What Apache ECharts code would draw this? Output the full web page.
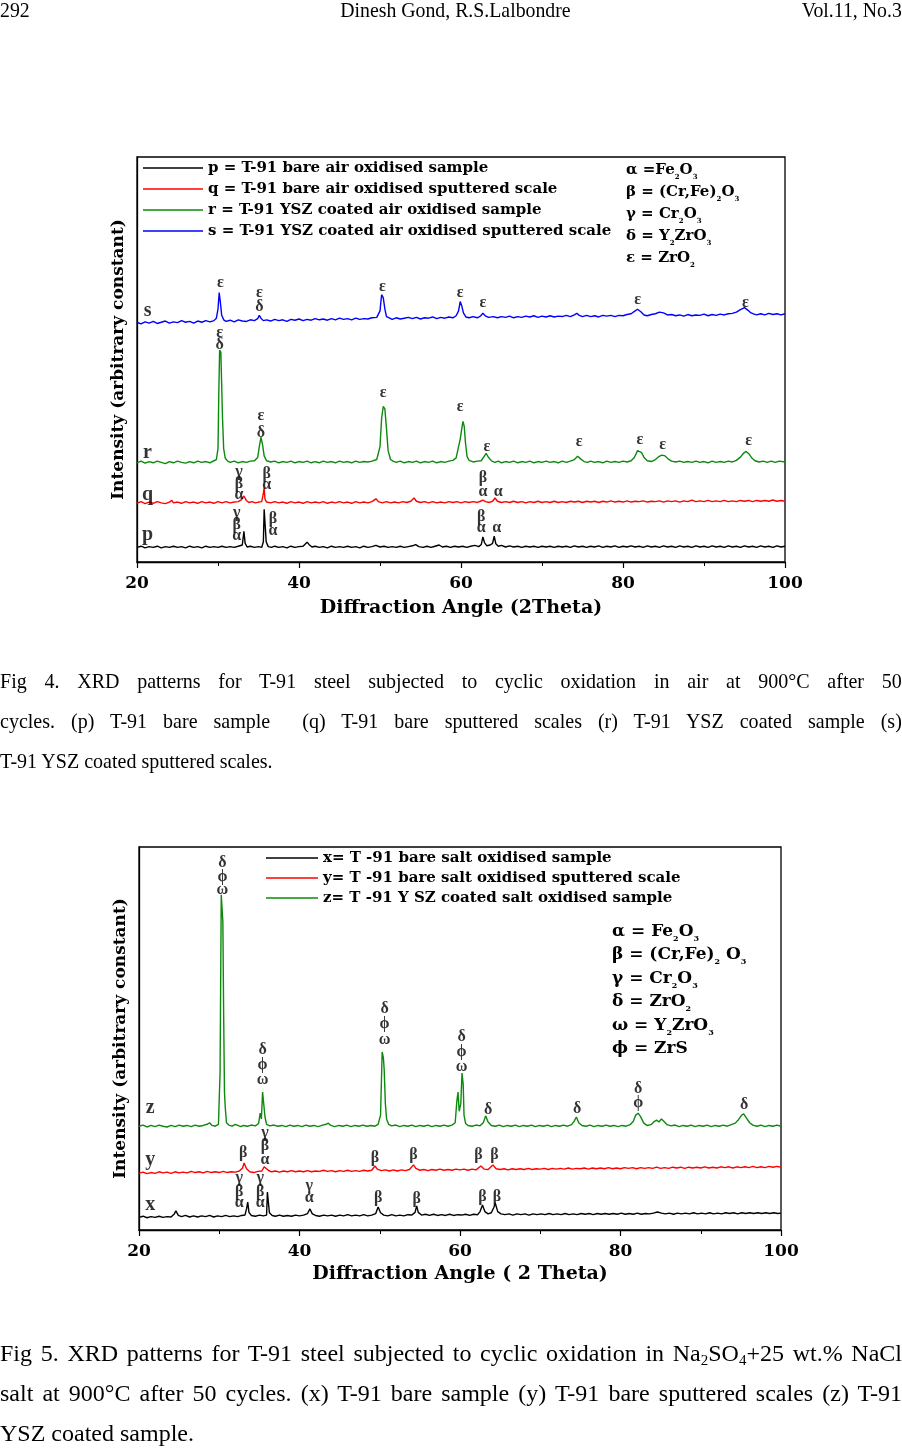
<!DOCTYPE html>
<html><head><meta charset="utf-8">
<script src="https://cdn.jsdelivr.net/npm/echarts@6/dist/echarts.min.js"></script>
<style>
html,body{margin:0;padding:0;background:#fff;}
#chart{position:absolute;left:0;top:0;width:902px;height:1454px;}
.txt{position:absolute;left:0;transform-origin:0 0;font-family:'Liberation Serif','Times New Roman',serif;color:#000;}
.cap1{width:991px;transform:scaleX(0.91);font-size:22px;line-height:40px;}
.cap2{width:902px;font-size:24px;line-height:40px;}
.j{text-align:justify;text-align-last:justify;}
.hdr{top:0;width:1002px;transform:scaleX(0.9);font-size:22px;line-height:20px;height:20px;}
sub{font-size:15px;line-height:0;vertical-align:-4px;}
</style></head><body>
<div id="chart"></div>
<div class="txt hdr"><span style="position:absolute;left:0">292</span><span style="position:absolute;left:378px">Dinesh Gond, R.S.Lalbondre</span><span style="position:absolute;right:0">Vol.11, No.3</span></div>
<div class="txt cap1" style="top:661px">
<div class="j">Fig 4. XRD patterns for T-91 steel subjected to cyclic oxidation in air at 900°C after 50</div>
<div class="j">cycles. (p) T-91 bare sample&nbsp; (q) T-91 bare sputtered scales (r) T-91 YSZ coated sample (s)</div>
<div>T-91 YSZ coated sputtered scales.</div>
</div>
<div class="txt cap2" style="top:1333px">
<div class="j">Fig 5. XRD patterns for T-91 steel subjected to cyclic oxidation in Na<sub>2</sub>SO<sub>4</sub>+25 wt.% NaCl</div>
<div class="j">salt at 900°C after 50 cycles. (x) T-91 bare sample (y) T-91 bare sputtered scales (z) T-91</div>
<div>YSZ coated sample.</div>
</div>
<script>
// ---------- axis ----------
const xTicks = [20, 40, 60, 80, 100];

// ---------- Fig 4 series names ----------
const names4 = [
  'p = T-91 bare air oxidised sample',
  'q = T-91 bare air oxidised sputtered scale',
  'r = T-91 YSZ coated air oxidised sample',
  's = T-91 YSZ coated air oxidised sputtered scale'
];
const colors4 = ['#000000', '#ff0000', '#0b8a0b', '#0000ff'];

// ---------- Fig 5 series names ----------
const names5 = [
  'x= T -91 bare salt oxidised sample',
  'y= T -91 bare salt oxidised sputtered scale',
  'z= T -91 Y SZ coated salt oxidised sample'
];
const colors5 = ['#000000', '#ff0000', '#0b8a0b'];

// ---------- Fig 4 data: [2theta, intensity (arb.)] ----------
const p4 = [[20,3.6],[20.5,3.9],[21,3.5],[21.5,3.8],[22,3.6],[22.5,3.9],[23,3.5],[23.5,3.8],[24,3.6],[24.5,3.9],[25,3.6],[25.5,3.8],[26,3.5],[26.5,3.9],[27,3.6],[27.5,3.8],[28,3.5],[28.5,3.9],[29,3.6],[29.5,3.8],[30,3.6],[30.5,3.9],[31,3.6],[31.5,3.8],[32,3.6],[32.5,3.9],[33.0,4.2],[33.2,7.6],[33.35,4.6],[33.6,3.7],[34,3.9],[34.5,3.6],[35,3.8],[35.4,3.6],[35.6,5.0],[35.7,13.0],[35.85,13.0],[35.95,5.0],[36.2,3.8],[36.6,3.6],[37,3.9],[37.5,3.6],[38,3.8],[38.5,3.5],[39,3.9],[39.5,3.6],[40,3.8],[40.5,3.9],[41,4.9],[41.3,4.2],[41.6,3.7],[42,3.9],[42.5,3.6],[43,3.8],[43.5,3.5],[44,3.9],[44.5,3.6],[45,3.8],[45.5,3.6],[46,3.9],[46.5,3.6],[47,3.8],[47.5,3.5],[48,3.9],[48.5,3.6],[49,3.8],[49.5,4.1],[50,3.7],[50.5,3.9],[51,3.6],[51.5,3.8],[52,3.6],[52.5,3.9],[53,3.6],[53.5,3.8],[54,4.0],[54.4,4.3],[54.8,3.8],[55.3,3.6],[55.8,3.9],[56.3,3.6],[56.8,3.9],[57.3,4.2],[57.7,3.7],[58.2,3.9],[58.7,3.6],[59.2,3.9],[59.7,3.7],[60.2,3.9],[60.7,3.6],[61.2,3.9],[61.7,4.1],[62.2,3.8],[62.5,4.3],[62.7,6.2],[62.9,4.8],[63.2,4.0],[63.6,4.2],[63.9,4.6],[64.1,6.4],[64.3,4.5],[64.6,3.9],[65,4.1],[65.5,3.7],[66,4.0],[66.5,3.7],[67,3.9],[67.5,3.6],[68,3.9],[68.5,3.7],[69,3.9],[69.5,3.6],[70,3.9],[70.5,3.7],[71,3.9],[71.5,3.6],[72,3.9],[72.5,3.7],[73,3.9],[73.5,3.6],[74,4.0],[74.5,3.7],[75,3.9],[75.5,3.6],[76,3.9],[76.5,3.7],[77,4.0],[77.5,3.6],[78,3.9],[78.5,3.7],[79,4.0],[79.5,3.6],[80,3.9],[80.5,3.7],[81,4.0],[81.5,3.7],[82,3.9],[82.5,3.6],[83,4.0],[83.5,3.7],[84,3.9],[84.5,3.6],[85,4.0],[85.5,3.7],[86,3.9],[86.5,3.6],[87,4.0],[87.5,3.7],[88,3.9],[88.5,3.6],[89,4.0],[89.5,3.7],[90,3.9],[90.5,3.6],[91,4.0],[91.5,3.7],[92,3.9],[92.5,3.6],[93,4.0],[93.5,3.7],[94,3.9],[94.5,3.6],[95,4.0],[95.5,3.7],[96,3.9],[96.5,3.6],[97,4.0],[97.5,3.7],[98,3.9],[98.5,3.6],[99,4.0],[99.5,3.7],[100,3.9]];

const q4 = [[20,14.5],[20.5,14.9],[21,14.4],[21.5,14.8],[22,14.5],[22.5,14.9],[23,14.6],[23.5,14.4],[24,14.8],[24.3,15.2],[24.5,14.6],[25,14.8],[25.5,14.5],[26,14.9],[26.5,14.6],[27,14.8],[27.5,14.5],[28,14.9],[28.5,14.6],[29,14.8],[29.5,14.5],[30,14.9],[30.5,14.6],[31,14.9],[31.5,14.6],[32,14.8],[32.5,14.9],[32.9,15.4],[33.2,16.3],[33.5,15.2],[33.8,14.7],[34.2,14.9],[34.6,14.6],[35,14.8],[35.4,14.9],[35.6,17.0],[35.7,18.3],[35.8,15.5],[36,14.8],[36.5,14.6],[37,14.9],[37.5,14.6],[38,14.8],[38.5,14.5],[39,14.9],[39.5,14.6],[40,14.8],[40.5,14.5],[41,14.9],[41.5,14.6],[42,14.8],[42.5,14.6],[43,14.9],[43.5,14.5],[44,14.8],[44.5,14.6],[45,14.9],[45.5,14.6],[46,14.8],[46.5,14.5],[47,14.9],[47.5,14.6],[48,14.8],[48.5,14.6],[49,14.9],[49.5,15.6],[49.8,14.9],[50.3,14.6],[50.8,14.9],[51.3,14.6],[51.8,14.8],[52.3,14.6],[52.8,14.9],[53.3,14.7],[53.8,15.0],[54.2,15.8],[54.5,15.0],[55,14.7],[55.5,14.9],[56,14.6],[56.5,14.9],[57,14.6],[57.5,14.8],[58,14.6],[58.5,14.9],[59,14.7],[59.5,14.9],[60,14.6],[60.5,14.9],[61,14.7],[61.5,14.9],[62,14.7],[62.4,15.0],[62.7,15.3],[63.0,14.9],[63.5,14.7],[63.9,15.0],[64.2,15.8],[64.5,15.0],[65,14.7],[65.5,14.9],[66,14.7],[66.5,15.0],[67,14.7],[67.5,14.9],[68,14.6],[68.5,14.9],[69,14.7],[69.5,15.0],[70,14.7],[70.5,14.9],[71,14.7],[71.5,15.0],[72,14.7],[72.5,14.9],[73,14.7],[73.5,15.0],[74,14.8],[74.5,15.0],[75,14.7],[75.5,15.0],[76,14.8],[76.5,15.0],[77,14.7],[77.5,15.0],[78,14.8],[78.5,15.1],[79,14.8],[79.5,15.0],[80,14.8],[80.5,15.1],[81,14.8],[81.5,15.0],[82,14.9],[82.5,15.1],[83,14.8],[83.5,15.0],[84,14.9],[84.5,15.1],[85,14.8],[85.5,15.1],[86,14.9],[86.5,15.1],[87,14.8],[87.5,15.1],[88,14.9],[88.5,15.3],[89,14.9],[89.5,15.1],[90,14.9],[90.5,15.2],[91,14.9],[91.5,15.1],[92,14.9],[92.5,15.2],[93,14.9],[93.5,15.1],[94,14.9],[94.5,15.2],[95,15.0],[95.5,15.2],[96,14.9],[96.5,15.2],[97,15.0],[97.5,15.2],[98,15.0],[98.5,15.3],[99,15.0],[99.5,15.2],[100,15.0]];

const r4 = [[20,24.5],[20.5,24.9],[21,24.4],[21.5,24.8],[22,24.5],[22.5,24.9],[23,24.6],[23.5,24.3],[24,24.8],[24.5,24.5],[25,24.9],[25.5,24.6],[26,24.4],[26.5,24.8],[27,24.5],[27.5,24.9],[28,24.6],[28.5,24.8],[29,24.5],[29.5,25.0],[29.8,25.3],[30.0,28],[30.1,42],[30.2,52.3],[30.35,51.8],[30.45,44],[30.55,36],[30.7,28],[30.9,25.6],[31.2,24.9],[31.5,24.6],[32,24.9],[32.5,24.5],[33,24.8],[33.5,24.6],[34,24.9],[34.5,25.0],[34.9,25.8],[35.1,28.5],[35.3,30.8],[35.5,29.0],[35.7,26.2],[36,25.0],[36.5,24.7],[37,24.9],[37.5,24.5],[38,24.8],[38.5,24.6],[39,24.9],[39.5,24.5],[40,24.8],[40.5,24.6],[41,24.9],[41.5,24.5],[42,24.8],[42.5,24.5],[43,24.9],[43.5,24.6],[44,24.8],[44.5,24.5],[45,24.9],[45.5,24.6],[46,24.8],[46.5,24.5],[47,24.9],[47.5,24.6],[48,24.8],[48.5,24.7],[49,24.9],[49.6,25.3],[50.0,28.5],[50.2,35.5],[50.4,38.4],[50.6,37.8],[50.8,33.0],[51.0,27.5],[51.3,25.3],[51.6,24.9],[52,24.6],[52.5,24.9],[53,24.5],[53.5,24.8],[54,24.6],[54.5,24.9],[55,24.5],[55.5,24.8],[56,24.6],[56.5,24.9],[57,24.5],[57.5,24.8],[58,24.6],[58.5,24.9],[59,25.1],[59.4,25.7],[59.7,28.5],[59.9,30.3],[60.1,33.0],[60.25,34.7],[60.4,33.5],[60.55,29.5],[60.75,26.0],[61,25.1],[61.5,24.7],[62,24.9],[62.5,25.0],[62.8,25.9],[63.1,26.8],[63.4,25.8],[63.8,24.9],[64.2,24.6],[64.6,24.9],[65,24.5],[65.5,24.8],[66,24.6],[66.5,24.9],[67,24.5],[67.5,24.8],[68,24.6],[68.5,24.9],[69,24.5],[69.5,24.8],[70,24.6],[70.5,24.9],[71,24.6],[71.5,24.8],[72,24.5],[72.5,24.9],[73,24.6],[73.5,24.9],[74,25.3],[74.4,26.1],[74.8,25.4],[75.2,24.8],[75.6,24.6],[76,24.9],[76.5,24.6],[77,24.8],[77.5,24.5],[78,24.9],[78.5,24.6],[79,24.8],[79.5,24.6],[80,24.9],[80.5,24.7],[81,25.0],[81.4,25.8],[81.8,27.5],[82.0,27.8],[82.3,27.0],[82.6,25.8],[83,25.0],[83.5,24.8],[84,25.3],[84.4,26.0],[84.8,26.4],[85.2,26.2],[85.6,25.4],[86,24.9],[86.5,24.7],[87,24.9],[87.5,24.6],[88,24.8],[88.5,24.6],[89,24.9],[89.5,24.6],[90,24.8],[90.5,24.5],[91,24.9],[91.5,24.6],[92,24.8],[92.5,24.6],[93,24.9],[93.5,24.7],[94,25.1],[94.5,25.9],[94.9,26.9],[95.2,27.3],[95.5,26.8],[95.9,25.7],[96.3,25.0],[96.8,24.7],[97.3,24.9],[97.8,24.6],[98.3,24.9],[98.8,24.6],[99.3,24.9],[100,24.7]];

const s4 = [[20,59.2],[20.5,58.8],[21,59.3],[21.5,59.0],[22,59.4],[22.5,58.9],[23,59.2],[23.5,59.5],[24,59.0],[24.5,59.3],[25,59.1],[25.5,59.6],[26,59.2],[26.5,59.4],[27,59.0],[27.5,59.5],[28,59.2],[28.5,59.6],[29,59.3],[29.5,59.6],[29.8,60.2],[30.0,62.5],[30.15,66.5],[30.3,64.0],[30.45,61.0],[30.7,59.8],[31,59.4],[31.5,59.7],[32,59.3],[32.5,59.8],[33,59.5],[33.5,59.4],[34,59.8],[34.5,59.6],[34.9,60.1],[35.1,60.9],[35.3,60.2],[35.6,59.6],[36,59.8],[36.5,59.5],[37,59.9],[37.5,59.6],[38,59.8],[38.5,59.4],[39,59.9],[39.5,59.7],[40,60.0],[40.5,59.6],[41,59.9],[41.5,59.7],[42,60.1],[42.5,59.8],[43,60.0],[43.5,59.7],[44,60.1],[44.5,59.8],[45,60.2],[45.5,59.9],[46,60.1],[46.5,59.8],[47,60.2],[47.5,59.9],[48,60.1],[48.5,60.0],[49,60.3],[49.6,60.4],[50.0,62.0],[50.2,66.0],[50.4,65.3],[50.6,62.5],[50.8,60.6],[51.2,60.2],[51.5,59.9],[52,60.3],[52.5,60.0],[53,60.2],[53.5,60.4],[54,60.1],[54.5,60.4],[55,60.0],[55.5,60.3],[56,60.2],[56.5,60.5],[57,60.1],[57.5,60.4],[58,60.2],[58.5,60.5],[59,60.3],[59.4,60.8],[59.7,62.0],[59.9,64.3],[60.1,63.2],[60.3,61.5],[60.6,60.5],[61,60.3],[61.5,60.6],[62,60.3],[62.4,60.7],[62.7,61.4],[63.0,60.8],[63.4,60.4],[64,60.6],[64.5,60.3],[65,60.6],[65.5,60.4],[66,60.7],[66.5,60.3],[67,60.6],[67.5,60.4],[68,60.7],[68.5,60.5],[69,60.8],[69.5,60.4],[70,60.7],[70.5,60.5],[71,60.8],[71.5,60.5],[72,60.7],[72.5,60.6],[73,60.9],[73.5,60.6],[74,61.0],[74.3,61.4],[74.6,60.9],[75,60.6],[75.5,60.9],[76,60.6],[76.5,60.8],[77,60.5],[77.5,60.9],[78,60.7],[78.5,60.9],[79,60.6],[79.5,60.9],[80,60.8],[80.5,61.1],[81,61.3],[81.5,62.0],[81.8,62.4],[82.2,61.8],[82.6,61.0],[83,60.8],[83.5,61.1],[84,61.3],[84.5,61.7],[85,61.5],[85.5,61.0],[86,61.1],[86.5,60.8],[87,61.0],[87.5,60.7],[88,61.1],[88.5,60.8],[89,61.0],[89.5,60.9],[90,61.2],[90.5,60.8],[91,61.1],[91.5,60.9],[92,61.2],[92.5,61.0],[93,61.3],[93.5,61.4],[94,61.7],[94.5,62.3],[95,62.8],[95.4,62.2],[95.8,61.5],[96.2,61.2],[96.5,61.0],[97,61.3],[97.5,61.0],[98,61.4],[98.5,61.1],[99,61.3],[99.5,61.0],[100,61.3]];

// ---------- Fig 5 data ----------
const x5 = [[20,3.3],[20.5,3.6],[21,3.2],[21.5,3.5],[22,3.3],[22.5,3.6],[23,3.3],[23.5,3.5],[24,3.4],[24.4,4.2],[24.6,5.0],[24.9,3.8],[25.3,3.5],[25.8,3.8],[26.3,3.4],[26.8,3.7],[27.3,3.4],[27.8,3.7],[28.3,3.5],[28.8,3.8],[29.3,3.4],[29.8,3.7],[30.3,3.5],[30.8,3.8],[31.3,3.5],[31.8,3.7],[32.3,3.5],[32.8,3.8],[33.2,3.9],[33.4,5.5],[33.55,7.3],[33.7,4.6],[34,3.8],[34.5,3.6],[35,3.9],[35.5,3.7],[35.9,3.9],[36.0,9.9],[36.15,9.9],[36.25,4.5],[36.6,3.8],[37,3.6],[37.5,3.9],[38,3.6],[38.5,3.8],[39,3.6],[39.5,3.9],[40,3.7],[40.5,3.9],[41,4.3],[41.3,5.5],[41.6,4.2],[42,3.8],[42.5,3.6],[43,3.9],[43.5,3.7],[44,3.9],[44.5,3.6],[45,3.9],[45.5,3.7],[46,4.0],[46.5,3.7],[47,3.9],[47.5,3.7],[48,4.0],[48.5,3.7],[49,3.9],[49.5,4.3],[49.8,6.0],[50.1,4.5],[50.5,3.9],[51,3.7],[51.5,4.0],[52,3.7],[52.5,3.9],[53,3.7],[53.5,4.0],[54,3.9],[54.4,4.6],[54.6,6.3],[54.8,4.6],[55.2,3.9],[55.7,4.1],[56.2,3.8],[56.7,4.1],[57.2,3.8],[57.7,4.0],[58.2,3.8],[58.7,4.1],[59.2,3.8],[59.7,4.0],[60.2,3.9],[60.7,4.1],[61.2,3.8],[61.7,4.1],[62.2,4.0],[62.5,4.8],[62.8,6.5],[63.1,4.8],[63.5,4.2],[63.9,4.5],[64.2,5.8],[64.4,7.0],[64.7,4.8],[65.1,4.2],[65.6,4.0],[66.1,4.2],[66.6,3.9],[67.1,4.2],[67.6,4.0],[68.1,4.2],[68.6,3.9],[69.1,4.2],[69.6,4.0],[70.1,4.2],[70.6,4.0],[71.1,4.3],[71.6,4.0],[72.1,4.2],[72.6,4.0],[73.1,4.3],[73.6,4.0],[74.1,4.2],[74.6,4.0],[75.1,4.3],[75.6,4.1],[76.1,4.3],[76.6,4.0],[77.1,4.3],[77.6,4.1],[78.1,4.3],[78.6,4.1],[79.1,4.3],[79.6,4.1],[80.1,4.4],[80.6,4.1],[81.1,4.3],[81.6,4.1],[82.1,4.4],[82.6,4.1],[83.1,4.3],[83.6,4.2],[84.1,4.4],[84.6,4.7],[85.1,4.4],[85.6,4.2],[86.1,4.4],[86.6,4.1],[87.1,4.4],[87.6,4.2],[88.1,4.4],[88.6,4.2],[89.1,4.5],[89.6,4.2],[90.1,4.4],[90.6,4.2],[91.1,4.5],[91.6,4.2],[92.1,4.4],[92.6,4.2],[93.1,4.5],[93.6,4.3],[94.1,4.5],[94.6,4.2],[95.1,4.5],[95.6,4.3],[96.1,4.5],[96.6,4.3],[97.1,4.5],[97.6,4.3],[98.1,4.5],[98.6,4.3],[99.1,4.5],[99.6,4.3],[100,4.4]];

const y5 = [[20,14.8],[20.5,15.1],[21,14.7],[21.5,15.0],[22,14.8],[22.5,15.2],[23,14.9],[23.5,15.1],[24,14.8],[24.5,15.2],[25,14.9],[25.5,15.1],[26,14.9],[26.5,15.3],[27,15.0],[27.5,15.2],[28,14.9],[28.5,15.3],[29,15.0],[29.5,15.2],[30,15.0],[30.5,15.3],[31,15.0],[31.5,15.2],[32,15.1],[32.5,15.4],[32.9,16.2],[33.1,17.5],[33.4,16.0],[33.8,15.2],[34.3,15.0],[34.8,15.3],[35.3,15.4],[35.6,16.5],[35.8,16.7],[36.1,15.6],[36.5,15.2],[37,15.4],[37.5,15.1],[38,15.4],[38.5,15.2],[39,15.5],[39.5,15.2],[40,15.4],[40.5,15.2],[41,15.5],[41.5,15.2],[42,15.4],[42.5,15.3],[43,15.6],[43.5,15.3],[44,15.5],[44.5,15.2],[45,15.5],[45.5,15.3],[46,15.6],[46.5,15.3],[47,15.5],[47.5,15.3],[48,15.6],[48.5,15.4],[49,15.6],[49.4,16.7],[49.7,15.9],[50.2,15.5],[50.7,15.7],[51.2,15.4],[51.7,15.7],[52.2,15.4],[52.7,15.7],[53.2,15.5],[53.7,15.8],[54.2,17.0],[54.5,16.1],[55,15.6],[55.5,15.8],[56,15.5],[56.5,15.8],[57,15.6],[57.5,15.9],[58,15.6],[58.5,15.8],[59,15.6],[59.5,15.9],[60,15.7],[60.5,15.9],[61,15.6],[61.5,15.9],[62,15.7],[62.6,16.7],[63,15.9],[63.5,15.8],[64.1,17.0],[64.5,16.0],[65,15.8],[65.5,16.0],[66,15.7],[66.5,16.0],[67,15.8],[67.5,16.0],[68,15.8],[68.5,16.1],[69,15.8],[69.5,16.0],[70,15.9],[70.5,16.1],[71,15.8],[71.5,16.1],[72,15.9],[72.5,16.1],[73,15.9],[73.5,16.2],[74,15.9],[74.5,16.1],[75,16.0],[75.5,16.2],[76,15.9],[76.5,16.2],[77,16.0],[77.5,16.2],[78,16.0],[78.5,16.3],[79,16.0],[79.5,16.2],[80,16.0],[80.5,16.3],[81,16.1],[81.5,16.3],[82,16.0],[82.5,16.3],[83,16.1],[83.5,16.3],[84,16.1],[84.5,16.4],[85,16.1],[85.5,16.3],[86,16.1],[86.5,16.4],[87,16.2],[87.5,16.4],[88,16.1],[88.5,16.4],[89,16.2],[89.5,16.4],[90,16.2],[90.5,16.5],[91,16.2],[91.5,16.4],[92,16.2],[92.5,16.5],[93,16.3],[93.5,16.5],[94,16.2],[94.5,16.5],[95,16.3],[95.5,16.5],[96,16.3],[96.5,16.6],[97,16.3],[97.5,16.5],[98,16.3],[98.5,16.6],[99,16.4],[99.5,16.6],[100,16.4]];

const z5 = [[20,27.1],[20.5,27.4],[21,26.9],[21.5,27.3],[22,27.0],[22.5,27.4],[23,27.1],[23.5,26.9],[24,27.3],[24.5,27.0],[25,27.4],[25.5,27.1],[26,27.3],[26.5,27.0],[27,27.4],[27.5,27.1],[28,27.3],[28.5,27.6],[28.8,28.0],[29.1,27.3],[29.5,27.1],[29.9,27.6],[30.1,41.0],[30.25,87.5],[30.4,87.5],[30.45,80.5],[30.55,56],[30.65,36],[30.75,32],[30.9,28.0],[31.2,27.4],[31.6,27.1],[32,27.6],[32.3,27.3],[32.7,27.0],[33,27.3],[33.5,27.1],[34,27.4],[34.5,27.2],[34.9,27.8],[35.1,30.5],[35.25,29.0],[35.4,36.0],[35.55,35.5],[35.7,29.5],[35.9,27.6],[36.3,27.2],[36.8,27.4],[37.3,27.1],[37.8,27.3],[38.3,27.0],[38.8,27.4],[39.3,27.1],[39.8,27.3],[40.3,27.0],[40.8,27.4],[41.3,27.1],[41.8,27.3],[42.3,27.0],[42.8,27.3],[43.3,27.6],[43.6,27.9],[43.9,27.3],[44.4,27.0],[44.9,27.3],[45.4,27.1],[45.9,27.4],[46.4,27.0],[46.9,27.3],[47.4,27.1],[47.9,27.4],[48.4,27.1],[48.9,27.3],[49.4,27.1],[49.8,27.6],[50.1,30.0],[50.3,46.5],[50.45,45.0],[50.55,42.0],[50.7,33.0],[50.85,29.0],[51.1,27.6],[51.5,27.2],[52,27.4],[52.5,27.0],[53,27.3],[53.5,27.1],[54,27.4],[54.5,27.0],[55,27.3],[55.5,27.1],[56,27.4],[56.5,27.0],[57,27.3],[57.5,27.1],[58,27.4],[58.5,27.1],[59,27.4],[59.4,28.0],[59.6,33.5],[59.75,36.0],[59.9,31.0],[60.1,33.0],[60.25,41.0],[60.4,38.0],[60.5,30.0],[60.7,27.8],[61,27.3],[61.5,27.1],[62,27.4],[62.5,27.2],[62.9,28.0],[63.2,29.8],[63.5,28.2],[63.9,27.3],[64.4,27.1],[64.9,27.4],[65.4,27.0],[65.9,27.3],[66.4,27.1],[66.9,27.4],[67.4,27.0],[67.9,27.3],[68.4,27.1],[68.9,27.4],[69.4,27.0],[69.9,27.3],[70.4,27.1],[70.9,27.4],[71.4,27.0],[71.9,27.3],[72.4,27.1],[72.9,27.4],[73.4,27.1],[73.9,27.5],[74.2,28.3],[74.5,29.5],[74.8,28.0],[75.2,27.3],[75.7,27.1],[76.2,27.4],[76.7,27.0],[77.2,27.3],[77.7,27.1],[78.2,27.4],[78.7,27.1],[79.2,27.3],[79.7,27.0],[80.2,27.3],[80.7,27.1],[81.2,27.5],[81.6,28.4],[81.9,30.0],[82.2,30.5],[82.5,29.6],[82.9,27.9],[83.3,27.3],[83.8,27.5],[84.2,28.3],[84.5,28.7],[84.8,28.2],[85.1,29.0],[85.4,28.4],[85.8,27.5],[86.3,27.2],[86.8,27.4],[87.3,27.0],[87.8,27.3],[88.3,27.1],[88.8,27.4],[89.3,27.0],[89.8,27.3],[90.3,27.1],[90.8,27.4],[91.3,27.0],[91.8,27.3],[92.3,27.1],[92.8,27.4],[93.3,27.1],[93.8,27.5],[94.3,27.9],[94.7,28.8],[95.1,30.0],[95.35,30.3],[95.7,29.2],[96.1,28.0],[96.5,27.4],[97,27.1],[97.5,27.4],[98,27.0],[98.5,27.3],[99,27.1],[99.5,27.4],[100,27.1]];

// ---------- peak phase tags: [2theta, intensity, symbol] ----------
const tags4 = [
  [30.3,68.9,'ε'],[35.1,66.4,'ε'],[35.1,63.0,'δ'],[50.3,67.9,'ε'],[59.9,66.4,'ε'],[62.7,64.0,'ε'],[81.8,64.7,'ε'],[95.1,64.0,'ε'],
  [30.2,56.5,'ε'],[30.2,53.6,'δ'],[35.3,36.0,'ε'],[35.3,31.9,'δ'],[50.4,41.7,'ε'],[59.9,38.3,'ε'],[63.2,28.4,'ε'],[74.6,29.6,'ε'],[82.1,30.1,'ε'],[84.9,28.9,'ε'],[95.5,29.9,'ε'],
  [32.6,22.2,'γ'],[32.6,19.3,'β'],[32.6,16.5,'α'],[36.0,21.7,'β'],[36.0,19.0,'α'],[62.7,20.7,'β'],[62.7,17.3,'α'],[64.6,17.3,'α'],
  [32.3,12.1,'γ'],[32.3,9.1,'β'],[32.3,6.4,'α'],[36.8,10.6,'β'],[36.8,7.7,'α'],[62.5,11.1,'β'],[62.5,8.4,'α'],[64.4,8.4,'α']
];
const tags5 = [
  [30.4,95.8,'δ'],[30.4,92.2,'ϕ'],[30.4,88.8,'ω'],[35.4,47.0,'δ'],[35.4,43.1,'ϕ'],[35.4,39.2,'ω'],
  [50.6,57.7,'δ'],[50.6,53.8,'ϕ'],[50.6,49.6,'ω'],[60.2,50.4,'δ'],[60.2,46.5,'ϕ'],[60.2,42.6,'ω'],
  [63.5,31.3,'δ'],[74.6,31.6,'δ'],[82.2,36.8,'δ'],[82.2,33.2,'ϕ'],[95.4,32.6,'δ'],
  [33.0,20.1,'β'],[35.7,25.3,'γ'],[35.7,21.9,'β'],[35.7,18.3,'α'],[49.4,18.8,'β'],[54.2,19.6,'β'],[62.3,19.6,'β'],[64.3,19.6,'β'],
  [32.5,13.6,'γ'],[32.5,9.9,'β'],[32.5,7.0,'α'],[35.1,13.6,'γ'],[35.1,9.9,'β'],[35.1,7.0,'α'],[41.2,11.5,'γ'],[41.2,8.4,'α'],
  [49.8,8.4,'β'],[54.6,8.1,'β'],[62.8,8.6,'β'],[64.6,8.6,'β']
];
// ---------- pattern letters: [2theta, intensity, letter] ----------
const letters4 = [[21.3,62.0,'s'],[21.3,26.9,'r'],[21.3,16.5,'q'],[21.3,6.7,'p']];
const letters5 = [[21.4,31.9,'z'],[21.4,18.3,'y'],[21.4,6.5,'x']];

// ---------- phase keys ----------
const key4 = ['{t|α =Fe}{s|2}{t|O}{s|3}','{t|β = (Cr,Fe)}{s|2}{t|O}{s|3}','{t|γ = Cr}{s|2}{t|O}{s|3}','{t|δ = Y}{s|2}{t|ZrO}{s|3}','{t|ε = ZrO}{s|2}'];
const key5 = ['{u|α = Fe}{v|2}{u|O}{v|3}','{u|β = (Cr,Fe)}{v|2}{u| O}{v|3}','{u|γ = Cr}{v|2}{u|O}{v|3}','{u|δ = ZrO}{v|2}','{u|ω = Y}{v|2}{u|ZrO}{v|3}','{u|ϕ = ZrS}'];

const SERIF = 'DejaVu Serif';
const TIMES = 'Liberation Serif';

function xAxisCfg(gi, name, gap) {
  return {
    gridIndex: gi, type: 'value', min: xTicks[0], max: xTicks[xTicks.length - 1], interval: xTicks[1] - xTicks[0],
    axisLine: { lineStyle: { color: '#000', width: 1.3 } },
    axisTick: { inside: false, length: 6, lineStyle: { color: '#000', width: 1.2 } },
    minorTick: { show: true, splitNumber: 2, length: 4, lineStyle: { color: '#000', width: 1 } },
    axisLabel: { fontFamily: SERIF, fontWeight: 'bold', fontSize: 17, color: '#000', margin: 13 },
    splitLine: { show: false }, minorSplitLine: { show: false },
    name: name, nameLocation: 'middle', nameGap: gap,
    nameTextStyle: { fontFamily: SERIF, fontWeight: 'bold', fontSize: 19, color: '#000' }
  };
}
function yAxisCfg(gi) {
  return {
    gridIndex: gi, type: 'value', min: 0, max: 100,
    axisLine: { show: true, lineStyle: { color: '#000', width: 1.3 } },
    axisTick: { show: false }, axisLabel: { show: false }, splitLine: { show: false },
    name: 'Intensity (arbitrary constant)', nameLocation: 'middle', nameGap: 10, nameRotate: 90,
    nameTextStyle: { fontFamily: SERIF, fontWeight: 'bold', fontSize: 17, color: '#000' }
  };
}
function lineSeries(name, data, color, gi) {
  return { name: name, type: 'line', data: data, xAxisIndex: gi, yAxisIndex: gi, color: color,
    showSymbol: false, symbol: 'none', lineStyle: { color: color, width: 1.4 }, silent: true, z: 3 };
}
function textSeries(tags, gi, font, size) {
  return { type: 'scatter', xAxisIndex: gi, yAxisIndex: gi, symbolSize: 1, silent: true, z: 5,
    itemStyle: { color: 'rgba(0,0,0,0)' },
    data: tags.map(t => ({ name: t[2], value: [t[0], t[1]] })),
    label: { show: true, position: 'inside', formatter: '{b}', fontFamily: font, fontWeight: 'bold', fontSize: size, color: '#000' } };
}
const rich4 = {
  t: { fontFamily: SERIF, fontWeight: 'bold', fontSize: 15, lineHeight: 21, fill: '#000' },
  s: { fontFamily: SERIF, fontWeight: 'bold', fontSize: 7, lineHeight: 7, verticalAlign: 'bottom', fill: '#000' }
};
const rich5 = {
  u: { fontFamily: SERIF, fontWeight: 'bold', fontSize: 17, lineHeight: 23, fill: '#000' },
  v: { fontFamily: SERIF, fontWeight: 'bold', fontSize: 8, lineHeight: 8, verticalAlign: 'bottom', fill: '#000' }
};

const graphics = [];
key4.forEach((t, i) => graphics.push({ type: 'text', left: 626, top: 163 + i * 22, silent: true, style: { text: t, rich: rich4, fill: '#000' } }));
key5.forEach((t, i) => graphics.push({ type: 'text', left: 612, top: 923 + i * 23.4, silent: true, style: { text: t, rich: rich5, fill: '#000' } }));

const legendBase = { orient: 'vertical', icon: 'rect', itemHeight: 1.5, selectedMode: false, padding: 0,
  textStyle: { fontFamily: SERIF, fontWeight: 'bold', fontSize: 15, lineHeight: 16, color: '#000' } };

const option = {
  animation: false,
  backgroundColor: '#fff',
  grid: [
    { left: 137, top: 157, width: 648, height: 405, show: true, borderColor: '#000', borderWidth: 1.3 },
    { left: 139, top: 847, width: 642, height: 383, show: true, borderColor: '#000', borderWidth: 1.3 }
  ],
  xAxis: [xAxisCfg(0, 'Diffraction Angle (2Theta)', 37), xAxisCfg(1, 'Diffraction Angle ( 2 Theta)', 35)],
  yAxis: [yAxisCfg(0), yAxisCfg(1)],
  legend: [
    Object.assign({}, legendBase, { data: names4, left: 143, top: 160, itemWidth: 60, itemGap: 5 }),
    Object.assign({}, legendBase, { data: names5, left: 266, top: 850, itemWidth: 52, itemGap: 4 })
  ],
  graphic: graphics,
  series: [
    lineSeries(names4[0], p4, colors4[0], 0),
    lineSeries(names4[1], q4, colors4[1], 0),
    lineSeries(names4[2], r4, colors4[2], 0),
    lineSeries(names4[3], s4, colors4[3], 0),
    lineSeries(names5[0], x5, colors5[0], 1),
    lineSeries(names5[1], y5, colors5[1], 1),
    lineSeries(names5[2], z5, colors5[2], 1),
    textSeries(tags4, 0, TIMES, 16),
    textSeries(tags5, 1, TIMES, 16),
    textSeries(letters4, 0, TIMES, 20),
    textSeries(letters5, 1, TIMES, 20)
  ]
};
const chart = echarts.init(document.getElementById('chart'), null, { renderer: 'canvas' });
chart.setOption(option);
</script>
</body></html>
